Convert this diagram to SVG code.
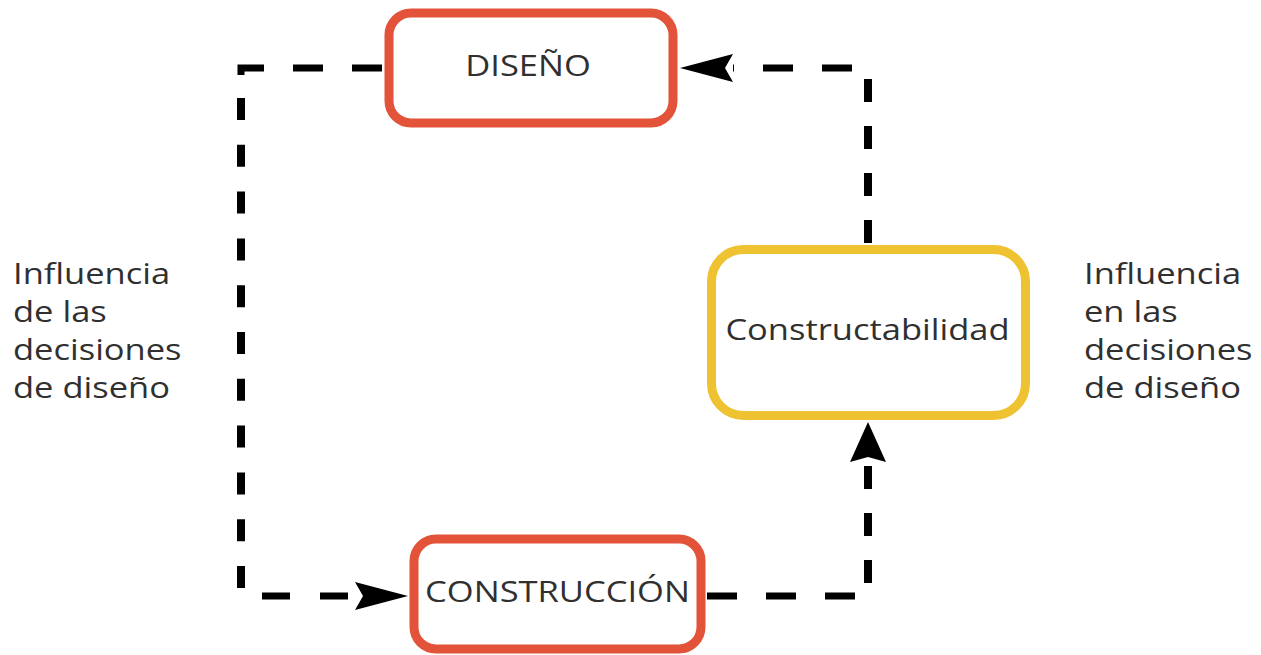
<svg xmlns="http://www.w3.org/2000/svg" width="1261" height="655" viewBox="0 0 1261 655">
  <style>
    .box-red { fill: #ffffff; stroke: #E2533A; stroke-width: 9; }
    .box-yellow { fill: #ffffff; stroke: #EEC230; stroke-width: 9; }
    .label { font-family: "Open Sans", "Noto Sans", "DejaVu Sans", sans-serif; font-size: 29px; fill: #303030; }
    .mid { text-anchor: middle; }
    .dash-h { fill: none; stroke: #000000; stroke-width: 7; stroke-dasharray: 30 29; }
    .dash-v { fill: none; stroke: #000000; stroke-width: 8; stroke-dasharray: 23 24; }
  </style>
  <defs>
    <!-- notched arrowheads; reference point is the back of the head -->
    <marker id="arrowH" markerUnits="userSpaceOnUse" markerWidth="56" markerHeight="32" viewBox="0 -16 56 32" refX="0" refY="0" orient="auto" overflow="visible">
      <polygon points="53,0 0,-14 8,0 0,14" fill="#000000"/>
    </marker>
    <marker id="arrowV" markerUnits="userSpaceOnUse" markerWidth="44" markerHeight="40" viewBox="0 -20 44 40" refX="0" refY="0" orient="auto" overflow="visible">
      <polygon points="40,0 0,-18 5,0 0,18" fill="#000000"/>
    </marker>
  </defs>

  <rect width="1261" height="655" fill="#ffffff"/>

  <g id="connectors">
    <!-- DISEÑO -> CONSTRUCCIÓN (left loop) -->
    <path class="dash-h" d="M382 68 H241 V76"/>
    <path class="dash-v" d="M241 98 V588" style="stroke-dasharray: 22 24.8"/>
    <path class="dash-h" d="M262 596 H355" style="stroke-dasharray: 28 30" marker-end="url(#arrowH)"/>
    <!-- CONSTRUCCIÓN -> Constructabilidad -->
    <path class="dash-h" d="M707 596 H856"/>
    <path class="dash-v" d="M868 583 V462" marker-end="url(#arrowV)"/>
    <!-- Constructabilidad -> DISEÑO -->
    <path class="dash-v" d="M868 243 V79"/>
    <path class="dash-h" d="M852 68 H733" marker-end="url(#arrowH)"/>
  </g>

  <g id="node-diseno">
    <rect class="box-red" x="389" y="13" width="284" height="110" rx="22"/>
    <text class="label mid" transform="translate(528 76) scale(1.19 1)">DISEÑO</text>
  </g>

  <g id="node-constructabilidad">
    <rect class="box-yellow" x="711.5" y="249.5" width="314" height="166" rx="32"/>
    <text class="label mid" transform="translate(867.5 340) scale(1.19 1)">Constructabilidad</text>
  </g>

  <g id="node-construccion">
    <rect class="box-red" x="414" y="539" width="287" height="110" rx="22"/>
    <text class="label mid" transform="translate(557.5 602) scale(1.19 1)">CONSTRUCCIÓN</text>
  </g>

  <g id="label-left">
    <text class="label" transform="translate(13 0) scale(1.19 1)">
      <tspan x="0" y="284">Influencia</tspan>
      <tspan x="0" y="322">de las</tspan>
      <tspan x="0" y="360">decisiones</tspan>
      <tspan x="0" y="398">de diseño</tspan>
    </text>
  </g>

  <g id="label-right">
    <text class="label" transform="translate(1084 0) scale(1.19 1)">
      <tspan x="0" y="284">Influencia</tspan>
      <tspan x="0" y="322">en las</tspan>
      <tspan x="0" y="360">decisiones</tspan>
      <tspan x="0" y="398">de diseño</tspan>
    </text>
  </g>
</svg>
